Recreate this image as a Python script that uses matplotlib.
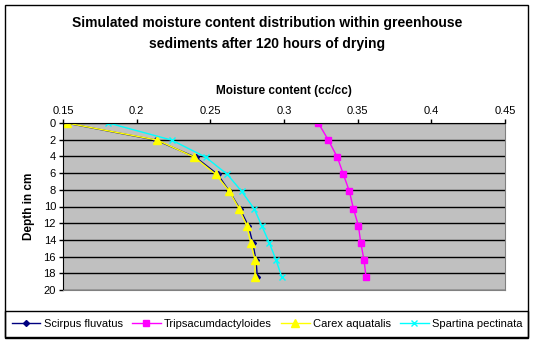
"""
Moisture content profile chart (Excel style)
"""
import matplotlib
matplotlib.use('Agg')
import matplotlib.pyplot as plt
from matplotlib.patches import Rectangle

# depth of each sample point (cm)
depths = [0, 2.05, 4.1, 6.15, 8.2, 10.25, 12.3, 14.35, 16.4, 18.45]

scirpus = [0.152, 0.213, 0.240, 0.255, 0.263, 0.270, 0.2758, 0.2788, 0.281, 0.2819]
tripsacum = [0.3233, 0.3301, 0.3362, 0.3403, 0.3444, 0.3471, 0.3505, 0.3521, 0.3543, 0.3557]
carex = [0.1525, 0.214, 0.2392, 0.2537, 0.2629, 0.2695, 0.2747, 0.2774, 0.2803, 0.2803]
spartina = [0.1808, 0.2238, 0.2469, 0.2615, 0.2713, 0.2797, 0.2849, 0.290, 0.2946, 0.2985]

series_names = ['Scirpus fluvatus', 'Tripsacumdactyloides', 'Carex aquatalis', 'Spartina pectinata']

x_ticks = [0.15, 0.2, 0.25, 0.3, 0.35, 0.4, 0.45]
x_tick_labels = ['0.15', '0.2', '0.25', '0.3', '0.35', '0.4', '0.45']
y_ticks = [0, 2, 4, 6, 8, 10, 12, 14, 16, 18, 20]

plt.rcParams['font.family'] = ['Liberation Sans', 'DejaVu Sans']

fig = plt.figure(figsize=(5.34, 3.45), dpi=100)
W, H = 534, 345

# outer chart border
fig.patches.append(Rectangle((5 / W, 1 - 338 / H), 523 / W, 333 / H, transform=fig.transFigure,
                             fill=False, edgecolor='black', linewidth=1))

ax = fig.add_axes([63 / W, 1 - 290 / H, 442 / W, 167 / H])
ax.set_facecolor('#C0C0C0')

ax.plot(scirpus, depths, color='#000080', marker='D', markersize=3, linewidth=1, label=series_names[0])
ax.plot(tripsacum, depths, color='#FF00FF', marker='s', markersize=5, linewidth=1, label=series_names[1])
ax.plot(carex, depths, color='#FFFF00', marker='^', markersize=6, linewidth=1, label=series_names[2])
ax.plot(spartina, depths, color='#00FFFF', marker='x', markersize=4, markeredgewidth=1,
        linewidth=1, label=series_names[3])

ax.set_xlim(0.15, 0.45)
ax.set_ylim(20, 0)
ax.xaxis.tick_top()
ax.xaxis.set_label_position('top')
ax.set_xticks(x_ticks)
ax.set_xticklabels(x_tick_labels)
ax.set_yticks(y_ticks)
ax.tick_params(axis='both', labelsize=8, length=3, width=1, direction='out', pad=2)
ax.tick_params(axis='y', right=False)

for y in y_ticks:
    ax.axhline(y, color='black', linewidth=1, zorder=1)

ax.spines['top'].set_color('black')
ax.spines['left'].set_color('black')
ax.spines['right'].set_color('#808080')
ax.spines['bottom'].set_color('#808080')

ax.set_xlabel('Moisture content (cc/cc)', fontsize=8.5, fontweight='bold', labelpad=9)
ax.set_ylabel('Depth in cm', fontsize=8.5, fontweight='bold', labelpad=6)

fig.text(0.5, 1 - 23 / H, 'Simulated moisture content distribution within greenhouse',
         ha='center', va='center', fontsize=10, fontweight='bold')
fig.text(0.5, 1 - 44 / H, 'sediments after 120 hours of drying',
         ha='center', va='center', fontsize=10, fontweight='bold')

# legend box along the bottom
fig.patches.append(Rectangle((5 / W, 1 - 337 / H), 523 / W, 26 / H, transform=fig.transFigure,
                             fill=False, edgecolor='black', linewidth=1))
fig.legend(loc='center', bbox_to_anchor=(0.5, 1 - 324 / H), ncol=4, frameon=False,
           fontsize=8, handlelength=2.6, handletextpad=0.3, columnspacing=0.8, borderpad=0)

fig.savefig('out.png', dpi=100)
